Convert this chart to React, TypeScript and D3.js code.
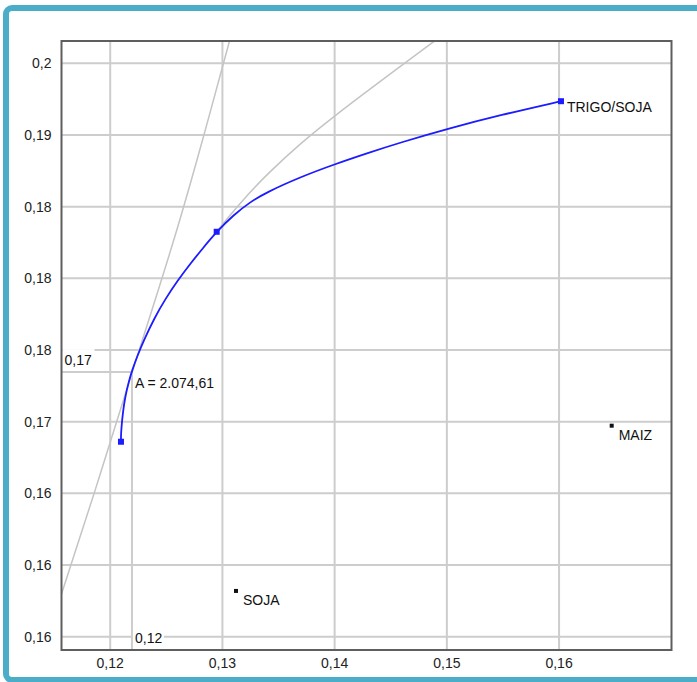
import React from "react";
import * as d3 from "d3";

// ---- data ----
const xTicks = [0.12, 0.13, 0.14, 0.15, 0.16];
const xTickLabels = ["0,12", "0,13", "0,14", "0,15", "0,16"];
const yTicks = [0.2, 0.195, 0.19, 0.185, 0.18, 0.175, 0.17, 0.165, 0.16];
const yTickLabels = ["0,2", "0,19", "0,18", "0,18", "0,18", "0,17", "0,16", "0,16", "0,16"];

// efficient frontier (blue)
const frontierX = [0.12096, 0.12096, 0.121, 0.12113, 0.12135, 0.12165, 0.12196, 0.12238, 0.12298, 0.12394, 0.12488, 0.12604, 0.12715, 0.12826, 0.12949, 0.13097, 0.13246, 0.13395, 0.13691, 0.14003, 0.14286, 0.14582, 0.15028, 0.15474, 0.16017, 0.16017];
const frontierY = [0.1736, 0.17405, 0.17456, 0.17567, 0.17679, 0.17777, 0.1786, 0.17951, 0.18066, 0.18223, 0.18352, 0.18488, 0.18603, 0.18711, 0.18825, 0.18941, 0.19032, 0.19101, 0.19206, 0.19297, 0.19372, 0.19447, 0.19548, 0.19639, 0.19736, 0.19736];

// frontier markers
const markerX = [0.12096, 0.12949, 0.16017];
const markerY = [0.1736, 0.18825, 0.19736];
const markerLabels = ["", "", "TRIGO/SOJA"];

// gray tangent curve
const tangentX = [0.11566, 0.11909, 0.12194, 0.12444, 0.12622, 0.128, 0.13063];
const tangentY = [0.16298, 0.17121, 0.17846, 0.18453, 0.18907, 0.19395, 0.20156];

// gray upper curve
const upperX = [0.12949, 0.12949, 0.13068, 0.13246, 0.13395, 0.13691, 0.14003, 0.14315, 0.1491];
const upperY = [0.18825, 0.18825, 0.18941, 0.19101, 0.19224, 0.1944, 0.19635, 0.19821, 0.20167];

// single assets
const assetNames = ["SOJA", "MAIZ"];
const assetX = [0.13121, 0.16469];
const assetY = [0.16319, 0.17472];

// tangent point annotation
const tangentPointX = 0.12194;
const tangentPointY = 0.17846;
const tangentPointXLabel = "0,12";
const tangentPointYLabel = "0,17";
const tangentPointText = "A = 2.074,61";

const xDomain = [0.11566, 0.17002];
const yDomain = [0.15907, 0.20156];

export default function App() {
  const W = 697, H = 682;
  const L = 61.5, R = 671.5, T = 41, B = 650;
  const x = d3.scaleLinear().domain(xDomain).range([L, R]);
  const y = d3.scaleLinear().domain(yDomain).range([B, T]);
  const line = d3.line<[number, number]>().x(d => x(d[0])).y(d => y(d[1])).curve(d3.curveBasis);
  const frontier = line(frontierX.map((v, i) => [v, frontierY[i]]) as [number, number][]) || "";
  const tangent = line(tangentX.map((v, i) => [v, tangentY[i]]) as [number, number][]) || "";
  const upper = line(upperX.map((v, i) => [v, upperY[i]]) as [number, number][]) || "";
  const font = "'Liberation Sans', Arial, sans-serif";
  const tpx = x(tangentPointX), tpy = y(tangentPointY);
  const grid = "#cdcdcd";

  return (
    <svg width={W} height={H} style={{ position: "absolute", left: 0, top: 0, background: "#fff" }} fontFamily={font}>
      <rect x={0} y={0} width={W} height={H} fill="#fff" />
      <rect x={6} y={8} width={720} height={672} rx={6} fill="#fff" stroke="#4badc7" strokeWidth={6} />
      <defs>
        <clipPath id="plot"><rect x={L} y={T} width={R - L} height={B - T} /></clipPath>
      </defs>
      {/* grid */}
      {xTicks.map((t, i) => (
        <line key={"gx" + i} x1={x(t)} x2={x(t)} y1={T} y2={B} stroke={grid} strokeWidth={2} />
      ))}
      {yTicks.map((t, i) => (
        <line key={"gy" + i} x1={L} x2={R} y1={y(t)} y2={y(t)} stroke={grid} strokeWidth={2} />
      ))}
      {/* tangent point reference lines */}
      <line x1={L} x2={tpx} y1={tpy} y2={tpy} stroke={grid} strokeWidth={2} />
      <line x1={tpx} x2={tpx} y1={tpy} y2={B} stroke={grid} strokeWidth={2} />
      <g clipPath="url(#plot)">
        <path d={tangent} fill="none" stroke="#c4c4c4" strokeWidth={1.5} />
        <path d={upper} fill="none" stroke="#c4c4c4" strokeWidth={1.5} />
        <path d={frontier} fill="none" stroke="#1c1cff" strokeWidth={1.8} />
      </g>
      {/* annotation labels with white backing */}
      <rect x={L + 1} y={tpy - 23} width={32} height={21} fill="#fff" />
      <text x={L + 3} y={tpy - 7} fontSize={14} fill="#111">{tangentPointYLabel}</text>
      <rect x={tpx + 1} y={B - 19} width={31} height={16} fill="#fff" />
      <text x={tpx + 3} y={B - 7} fontSize={14} fill="#111">{tangentPointXLabel}</text>
      <text x={tpx + 3} y={tpy + 16} fontSize={14} fill="#111">{tangentPointText}</text>
      {/* markers */}
      {markerX.map((v, i) => (
        <g key={"m" + i}>
          <rect x={x(v) - 3} y={y(markerY[i]) - 3} width={6} height={6} fill="#1c1cff" />
          {markerLabels[i] && (
            <text x={x(v) + 6} y={y(markerY[i]) + 11} fontSize={14} fill="#111">{markerLabels[i]}</text>
          )}
        </g>
      ))}
      {assetX.map((v, i) => (
        <g key={"a" + i}>
          <rect x={x(v) - 2} y={y(assetY[i]) - 2} width={4} height={4} fill="#111" />
          <text x={x(v) + 7} y={y(assetY[i]) + 14} fontSize={14} fill="#111">{assetNames[i]}</text>
        </g>
      ))}
      {/* frame */}
      <rect x={L} y={T} width={R - L} height={B - T} fill="none" stroke="#5e5e5e" strokeWidth={2} />
      {/* axes labels */}
      {xTicks.map((t, i) => (
        <text key={"xl" + i} x={x(t)} y={B + 18} fontSize={14} textAnchor="middle" fill="#222">{xTickLabels[i]}</text>
      ))}
      {yTicks.map((t, i) => (
        <text key={"yl" + i} x={L - 10} y={y(t) + 5} fontSize={14} textAnchor="end" fill="#222">{yTickLabels[i]}</text>
      ))}
    </svg>
  );
}
